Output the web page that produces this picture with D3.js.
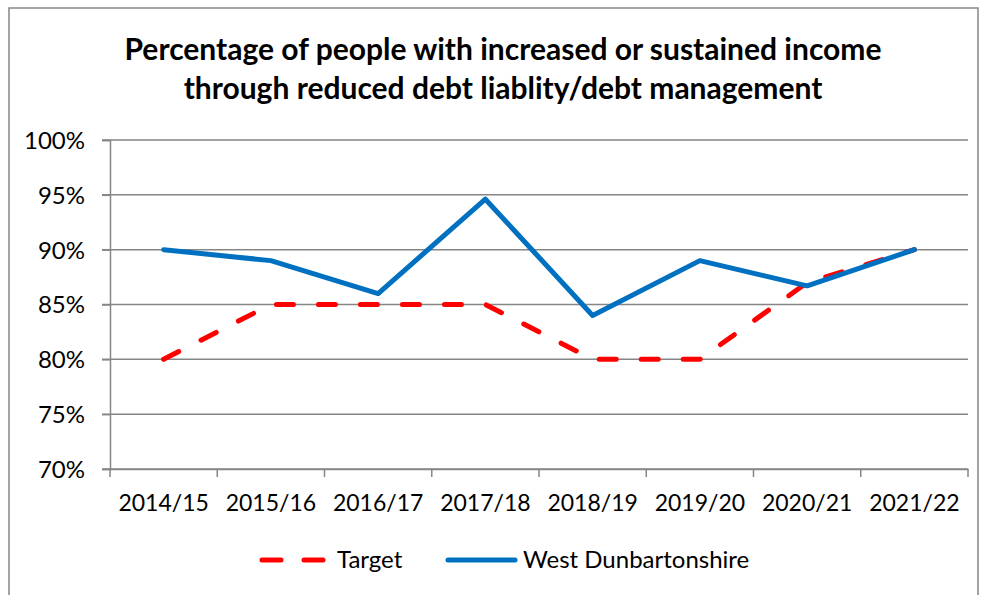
<!DOCTYPE html>
<html>
<head>
<meta charset="utf-8">
<script src="https://cdn.jsdelivr.net/npm/d3@7"></script>
<style>
  body { margin: 0; background: #fff; }
  text { font-family: Lato, "Open Sans", sans-serif; fill: #000; }
</style>
</head>
<body>
<div id="chart"></div>
<script>
const years = ["2014/15", "2015/16", "2016/17", "2017/18", "2018/19", "2019/20", "2020/21", "2021/22"];
const target = [80, 85, 85, 85, 80, 80, 87, 90];
const westDunbartonshire = [90, 89, 86, 94.6, 84, 89, 86.7, 90];
const yTicks = [70, 75, 80, 85, 90, 95, 100];
const titleLines = ["Percentage of people with increased or sustained income",
                    "through reduced debt liablity/debt management"];

const W = 983, H = 595;
const plot = {left: 110, right: 968, top: 140, bottom: 469};

const svg = d3.select("#chart").append("svg")
    .attr("width", W).attr("height", H);

// outer chart border
svg.append("rect")
    .attr("x", 9).attr("y", 8)
    .attr("width", 969).attr("height", 600)
    .attr("fill", "none").attr("stroke", "#868686").attr("stroke-width", 1.5);

// title
svg.selectAll(".title")
    .data(titleLines).enter().append("text")
    .attr("class", "title")
    .attr("x", 503)
    .attr("y", (d, i) => 60 + i * 38.5)
    .attr("text-anchor", "middle")
    .style("font-weight", "bold")
    .style("font-size", "30px")
    .text(d => d);

const x = d3.scaleBand().domain(years).range([plot.left, plot.right]).padding(0);
const y = d3.scaleLinear().domain([70, 100]).range([plot.bottom, plot.top]);

// gridlines
svg.append("g")
    .selectAll("line")
    .data(yTicks).enter().append("line")
    .attr("x1", plot.left - 8).attr("x2", plot.right)
    .attr("y1", d => y(d)).attr("y2", d => y(d))
    .attr("stroke", "#868686").attr("stroke-width", 1.5);

// y axis
const yAxis = svg.append("g")
    .attr("transform", `translate(${plot.left},0)`)
    .call(d3.axisLeft(y).tickValues(yTicks).tickSize(8).tickPadding(17)
        .tickFormat(d => d + "%"));
yAxis.select(".domain").attr("stroke", "#868686").attr("stroke-width", 1.5);
yAxis.selectAll(".tick line").attr("stroke", "#868686").attr("stroke-width", 1.5);
yAxis.selectAll("text").style("font-size", "24px").attr("dy", "0.35em");

// x axis
const xAxis = svg.append("g")
    .attr("transform", `translate(0,${plot.bottom})`)
    .call(d3.axisBottom(x).tickSize(0).tickPadding(26));
xAxis.select(".domain").attr("stroke", "#868686").attr("stroke-width", 1.5);
xAxis.selectAll("text").style("font-size", "23px");
xAxis.selectAll(".tick line").remove();
svg.append("g")
    .selectAll("line")
    .data(years.concat(["end"])).enter().append("line")
    .attr("x1", (d, i) => plot.left + i * x.bandwidth())
    .attr("x2", (d, i) => plot.left + i * x.bandwidth())
    .attr("y1", plot.bottom).attr("y2", plot.bottom + 8)
    .attr("stroke", "#868686").attr("stroke-width", 1.5);

const line = d3.line()
    .x((d, i) => x(years[i]) + x.bandwidth() / 2)
    .y(d => y(d));

svg.append("path")
    .datum(target)
    .attr("d", line)
    .attr("fill", "none")
    .attr("stroke", "#ff0000")
    .attr("stroke-width", 5)
    .attr("stroke-linecap", "round")
    .attr("stroke-dasharray", "17 25");

svg.append("path")
    .datum(westDunbartonshire)
    .attr("d", line)
    .attr("fill", "none")
    .attr("stroke", "#0070c0")
    .attr("stroke-width", 5)
    .attr("stroke-linejoin", "round")
    .attr("stroke-linecap", "round");

// legend
const legend = svg.append("g");
legend.append("line")
    .attr("x1", 262).attr("x2", 324).attr("y1", 560).attr("y2", 560)
    .attr("stroke", "#ff0000").attr("stroke-width", 5)
    .attr("stroke-linecap", "round").attr("stroke-dasharray", "19 23");
legend.append("text")
    .attr("x", 337).attr("y", 560).attr("dy", "0.35em")
    .style("font-size", "24px").text("Target");
legend.append("line")
    .attr("x1", 448).attr("x2", 515).attr("y1", 560).attr("y2", 560)
    .attr("stroke", "#0070c0").attr("stroke-width", 5)
    .attr("stroke-linecap", "round");
legend.append("text")
    .attr("x", 523).attr("y", 560).attr("dy", "0.35em")
    .style("font-size", "24px").text("West Dunbartonshire");
</script>
</body>
</html>
